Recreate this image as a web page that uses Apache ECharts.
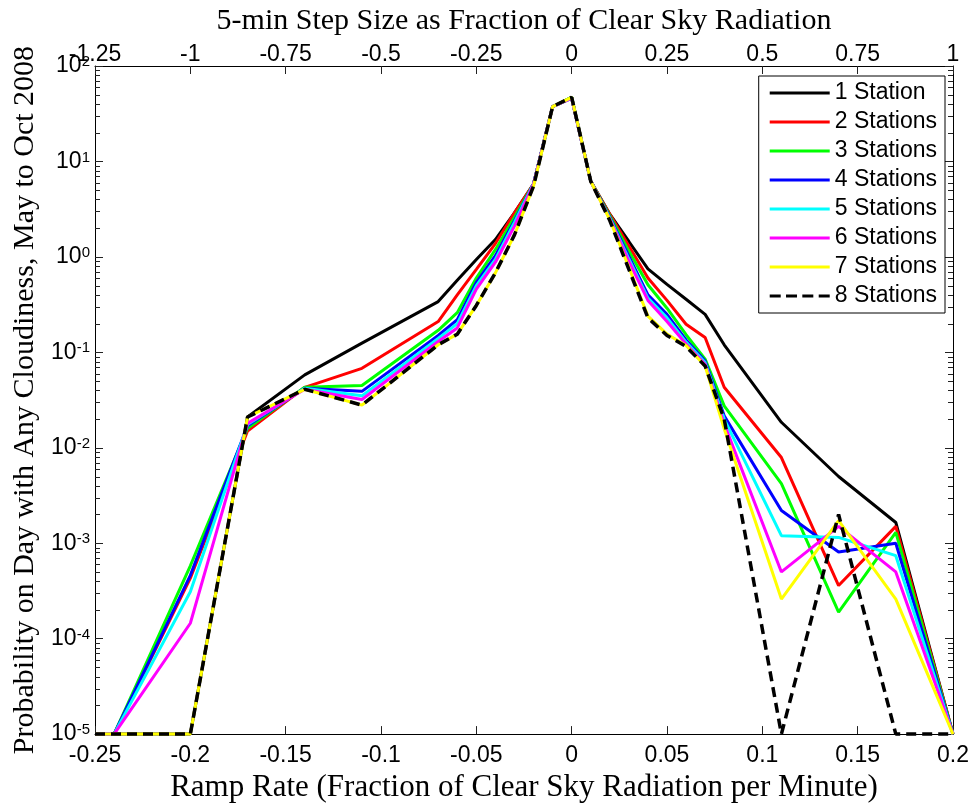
<!DOCTYPE html>
<html><head><meta charset="utf-8">
<script src="https://cdn.jsdelivr.net/npm/echarts@6/dist/echarts.min.js"></script>
<style>html,body{margin:0;padding:0;background:#fff}#c{width:975px;height:808px}</style>
</head><body><div id="c"></div>
<script>
// Ramp rate bins (fraction of clear sky radiation per minute)
const rampRate = [-0.25,-0.24,-0.2,-0.17,-0.14,-0.11,-0.07,-0.06,-0.05,-0.04,-0.03,-0.02,-0.01,0,0.01,0.02,0.03,0.04,0.05,0.06,0.07,0.08,0.11,0.14,0.17,0.2];
const station1 = [1e-5,1e-5,1e-5,0.021,0.058,0.125,0.34,0.57,0.94,1.52,2.9,5.8,37.6,47,6.2,2.8,1.45,0.75,0.515,0.36,0.25,0.12,0.0185,0.005,0.00165,1e-5];
const station2 = [1e-5,1e-5,4.3e-4,0.015,0.043,0.068,0.21,0.40,0.74,1.38,2.9,5.8,37.6,46,6.2,2.8,1.3,0.6,0.35,0.197,0.143,0.043,0.0079,3.6e-4,1.5e-3,1e-5];
const station3 = [1e-5,1e-5,5.8e-4,0.016,0.043,0.045,0.17,0.26,0.6,1.19,2.6,5.8,37.6,47,6.2,2.7,1.15,0.51,0.29,0.153,0.085,0.0275,0.0042,1.9e-4,1.3e-3,1e-5];
const station4 = [1e-5,1e-5,4.6e-4,0.017,0.042,0.039,0.15,0.22,0.54,1.03,2.4,5.8,37.6,46,6.2,2.6,1.02,0.40,0.25,0.135,0.081,0.0216,0.0022,8.1e-4,1.0e-3,1e-5];
const station5 = [1e-5,1e-5,3.1e-4,0.0175,0.042,0.035,0.14,0.2,0.5,0.94,2.3,5.8,37.6,46,6.2,2.55,0.95,0.37,0.23,0.128,0.078,0.02,0.0012,1.15e-3,7.4e-4,1e-5];
const station6 = [1e-5,1e-5,1.45e-4,0.018,0.041,0.032,0.13,0.18,0.46,0.88,2.1,5.8,37.6,46,6.2,2.5,0.9,0.35,0.21,0.122,0.075,0.0178,5e-4,1.5e-3,5e-4,1e-5];
const station7 = [1e-5,1e-5,1e-5,0.021,0.041,0.028,0.12,0.155,0.31,0.68,1.7,5.5,37.6,47,6.2,2.45,0.78,0.24,0.155,0.118,0.072,0.0158,2.6e-4,1.72e-3,2.6e-4,1e-5];
const station8 = [1e-5,1e-5,1e-5,0.021,0.041,0.028,0.12,0.155,0.31,0.68,1.7,5.5,37.6,47,6.2,2.4,0.74,0.23,0.15,0.115,0.072,0.02,1e-5,2.0e-3,1e-5,1e-5];
const seriesNames = ['1 Station','2 Stations','3 Stations','4 Stations','5 Stations','6 Stations','7 Stations','8 Stations'];
const seriesValues = [station1,station2,station3,station4,station5,station6,station7,station8];
const seriesColors = ['#000000','#ff0000','#00ff00','#0000ff','#00ffff','#ff00ff','#ffff00','#000000'];
// Axis tick labels
const bottomTicks = [-0.25,-0.2,-0.15,-0.1,-0.05,0,0.05,0.1,0.15,0.2];
const topTicks = [-1.25,-1,-0.75,-0.5,-0.25,0,0.25,0.5,0.75,1];
const yDecades = [-5,-4,-3,-2,-1,0,1,2];
const minorMultipliers = [2,3,4,5,6,7,8,9];

const fmt = v => String(+(+v).toFixed(2));
const sans = 'Liberation Sans, Arial, sans-serif';
const serif = 'Liberation Serif, Times New Roman, serif';
const SOLID_ICON = 'path://M0,0H60V3H0Z';
const DASH_ICON = 'path://M0,0H11V3H0Z M16.3,0H27.3V3H16.3Z M32.6,0H43.6V3H32.6Z M49,0H60V3H49Z';
const TICK_COLOR = '#222222';

const chart = echarts.init(document.getElementById('c'), null, {renderer:'canvas'});
const mkLine = () => ({show:true, onZero:false, lineStyle:{color:'#000', width:1}});
const mkTick = () => ({show:true, inside:true, length:8, lineStyle:{color:TICK_COLOR, width:1}});

const series = seriesNames.map((name,i) => ({
  name, type:'line', xAxisIndex:0, yAxisIndex:0,
  data: rampRate.map((x,j) => [x, seriesValues[i][j]]),
  symbol:'none', clip:false, silent:true,
  lineStyle:{color:seriesColors[i], width: i===7 ? 3.5 : 3, type: i===7 ? [10,6] : 'solid', cap:'butt'},
  itemStyle:{color:seriesColors[i]},
  z: 2 + i
}));

const yLabel = {
  show:true, margin:5,
  formatter: v => '{b|10}{e|' + Math.round(Math.log10(v)) + '}',
  rich:{
    b:{fontFamily:sans, fontSize:23, lineHeight:23, color:'#000', verticalAlign:'bottom'},
    e:{fontFamily:sans, fontSize:15, lineHeight:15, color:'#000', verticalAlign:'top', padding:[0,0,13,0]}
  }
};

chart.setOption({
  animation:false,
  backgroundColor:'#fff',
  grid:{left:95, right:22, top:66, bottom:72, containLabel:false},
  legend:{
    data:seriesNames.map((n,i) => ({name:n, icon: i===7 ? DASH_ICON : SOLID_ICON, itemStyle:{color:seriesColors[i]}})),
    orient:'vertical', right:30, top:76,
    backgroundColor:'#fff', borderColor:'#000', borderWidth:1, borderRadius:0,
    padding:[5,8,5,11], itemWidth:60, itemHeight:3, itemGap:5,
    textStyle:{fontFamily:sans, fontSize:23, color:'#000', lineHeight:24},
    selectedMode:false
  },
  xAxis:[
    {type:'value', position:'bottom', min:bottomTicks[0], max:bottomTicks[bottomTicks.length-1], interval:0.05,
     name:'Ramp Rate (Fraction of Clear Sky Radiation per Minute)', nameLocation:'middle', nameGap:35,
     nameTextStyle:{fontFamily:serif, fontSize:31, color:'#000'},
     axisLine:mkLine(), axisTick:mkTick(), splitLine:{show:false},
     axisLabel:{fontFamily:sans, fontSize:23, color:'#000', margin:10, formatter:fmt}},
    {type:'value', position:'top', min:topTicks[0], max:topTicks[topTicks.length-1], interval:0.25,
     name:'5-min Step Size as Fraction of Clear Sky Radiation', nameLocation:'middle', nameGap:30,
     nameTextStyle:{fontFamily:serif, fontSize:30, color:'#000'},
     axisLine:mkLine(), axisTick:mkTick(), splitLine:{show:false},
     axisLabel:{fontFamily:sans, fontSize:23, color:'#000', margin:0, formatter:fmt}}
  ],
  yAxis:[
    {type:'log', logBase:10, position:'left', min:Math.pow(10,yDecades[0]), max:Math.pow(10,yDecades[yDecades.length-1]), splitNumber:7,
     name:'Probability on Day with Any Cloudiness, May to Oct 2008', nameLocation:'middle', nameGap:55, nameRotate:90,
     nameTextStyle:{fontFamily:serif, fontSize:30, color:'#000'},
     axisLine:mkLine(), axisTick:mkTick(), splitLine:{show:false},
     axisLabel:yLabel},
    {type:'log', logBase:10, position:'right', min:Math.pow(10,yDecades[0]), max:Math.pow(10,yDecades[yDecades.length-1]), splitNumber:7,
     axisLine:mkLine(), axisTick:mkTick(), splitLine:{show:false}, axisLabel:{show:false}}
  ],
  series
});

// Minor log ticks (2..9 within each decade) on left and right frame, placed via the axis scale
const xL = chart.convertToPixel({xAxisIndex:0}, bottomTicks[0]);
const xR = chart.convertToPixel({xAxisIndex:0}, bottomTicks[bottomTicks.length-1]);
const minor = [];
yDecades.slice(0,-1).forEach(d => minorMultipliers.forEach(k => {
  const y = Math.round(chart.convertToPixel({yAxisIndex:0}, k*Math.pow(10,d))) + 0.5;
  minor.push({type:'line', silent:true, z:50, shape:{x1:xL, y1:y, x2:xL+5, y2:y}, style:{stroke:TICK_COLOR, lineWidth:1}});
  minor.push({type:'line', silent:true, z:50, shape:{x1:xR, y1:y, x2:xR-5, y2:y}, style:{stroke:TICK_COLOR, lineWidth:1}});
}));
chart.setOption({graphic:minor});
</script></body></html>
